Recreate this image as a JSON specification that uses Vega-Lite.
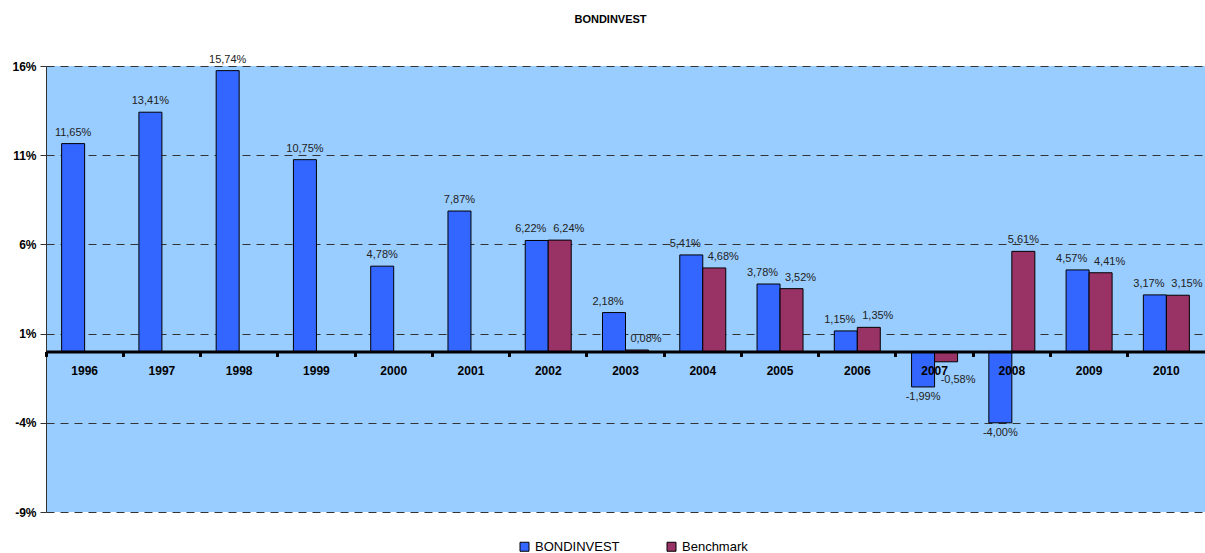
{
  "$schema": "https://vega.github.io/schema/vega-lite/v6.json",
  "autosize": {"type": "none"},
  "width": 1159,
  "height": 446,
  "padding": {"left": 46, "top": 66, "right": 0, "bottom": 41},
  "background": "white",
  "config": {
    "font": "Liberation Sans",
    "view": {"fill": "#99CCFF", "stroke": null}
  },
  "title": {
    "text": "BONDINVEST",
    "fontSize": 11,
    "fontWeight": "bold",
    "color": "black",
    "offset": 29,
    "dx": -15,
    "anchor": "middle"
  },
  "data": {
    "values": [
      {"year": "1996", "series": "BONDINVEST", "v": 11.65},
      {"year": "1997", "series": "BONDINVEST", "v": 13.41},
      {"year": "1998", "series": "BONDINVEST", "v": 15.74},
      {"year": "1999", "series": "BONDINVEST", "v": 10.75},
      {"year": "2000", "series": "BONDINVEST", "v": 4.78},
      {"year": "2001", "series": "BONDINVEST", "v": 7.87},
      {"year": "2002", "series": "BONDINVEST", "v": 6.22},
      {"year": "2002", "series": "Benchmark", "v": 6.24},
      {"year": "2003", "series": "BONDINVEST", "v": 2.18},
      {"year": "2003", "series": "Benchmark", "v": 0.08},
      {"year": "2004", "series": "BONDINVEST", "v": 5.41},
      {"year": "2004", "series": "Benchmark", "v": 4.68},
      {"year": "2005", "series": "BONDINVEST", "v": 3.78},
      {"year": "2005", "series": "Benchmark", "v": 3.52},
      {"year": "2006", "series": "BONDINVEST", "v": 1.15},
      {"year": "2006", "series": "Benchmark", "v": 1.35},
      {"year": "2007", "series": "BONDINVEST", "v": -1.99},
      {"year": "2007", "series": "Benchmark", "v": -0.58},
      {"year": "2008", "series": "BONDINVEST", "v": -4.00},
      {"year": "2008", "series": "Benchmark", "v": 5.61},
      {"year": "2009", "series": "BONDINVEST", "v": 4.57},
      {"year": "2009", "series": "Benchmark", "v": 4.41},
      {"year": "2010", "series": "BONDINVEST", "v": 3.17},
      {"year": "2010", "series": "Benchmark", "v": 3.15}
    ]
  },
  "encoding": {
    "x": {
      "field": "year",
      "type": "nominal",
      "scale": {"paddingInner": 0, "paddingOuter": 0},
      "axis": {
        "title": null,
        "offset": -160.56,
        "zindex": 1,
        "labelAngle": 0,
        "labelFont": "Liberation Sans",
        "labelFontSize": 12,
        "labelFontWeight": "bold",
        "labelColor": "black",
        "labelPadding": 9,
        "domainColor": "black",
        "domainWidth": 3,
        "tickColor": "black",
        "tickWidth": 3,
        "tickSize": 5,
        "bandPosition": 0,
        "grid": false
      }
    },
    "xOffset": {
      "field": "series",
      "type": "nominal",
      "scale": {"domain": ["BONDINVEST", "Benchmark"], "paddingInner": 0, "paddingOuter": 0.68}
    },
    "y": {
      "field": "v",
      "type": "quantitative",
      "scale": {"domain": [-9, 16], "nice": false, "zero": false},
      "axis": {
        "title": null,
        "values": [-9, -4, 1, 6, 11, 16],
        "labelExpr": "datum.value + '%'",
        "labelFont": "Liberation Sans",
        "labelFontSize": 12,
        "labelFontWeight": "bold",
        "labelColor": "black",
        "labelPadding": 4,
        "domainColor": "#333333",
        "domainWidth": 1,
        "tickColor": "#333333",
        "tickSize": 6,
        "grid": true,
        "gridColor": "#333333",
        "gridDash": [8, 6],
        "gridWidth": 1,
        "gridOpacity": 1,
        "zindex": 0
      }
    }
  },
  "layer": [
    {
      "mark": {"type": "bar", "stroke": "black", "strokeWidth": 1},
      "encoding": {
        "color": {
          "field": "series",
          "type": "nominal",
          "scale": {"domain": ["BONDINVEST", "Benchmark"], "range": ["#3366FF", "#993366"]},
          "legend": {
            "title": null,
            "orient": "none",
            "legendX": 472,
            "legendY": 474,
            "direction": "horizontal",
            "symbolType": "square",
            "symbolSize": 81,
            "symbolStrokeColor": "black",
            "symbolStrokeWidth": 1,
            "labelFont": "Liberation Sans",
            "labelFontSize": 13,
            "labelColor": "black",
            "columnPadding": 45,
            "labelOffset": 4
          }
        }
      }
    },
    {
      "mark": {
        "type": "text",
        "font": "Liberation Sans",
        "fontSize": 11,
        "color": "#222222",
        "baseline": {"expr": "datum.v >= 0 ? 'bottom' : 'top'"},
        "dy": {"expr": "datum.v >= 0 ? -6 : (datum.v > -1 ? 12 : 4)"},
        "dx": {"expr": "datum.series == 'Benchmark' ? (datum.v > 5.5 && datum.year == '2008' ? 0 : (datum.v < 0 ? 12 : 9)) : (datum.year >= '2002' && datum.v > 0 ? -6 : 0)"},
        "text": {"expr": "(datum.v < 0 ? '-' : '') + replace(format(abs(datum.v), '.2f'), '.', ',') + '%'"}
      }
    }
  ]
}
